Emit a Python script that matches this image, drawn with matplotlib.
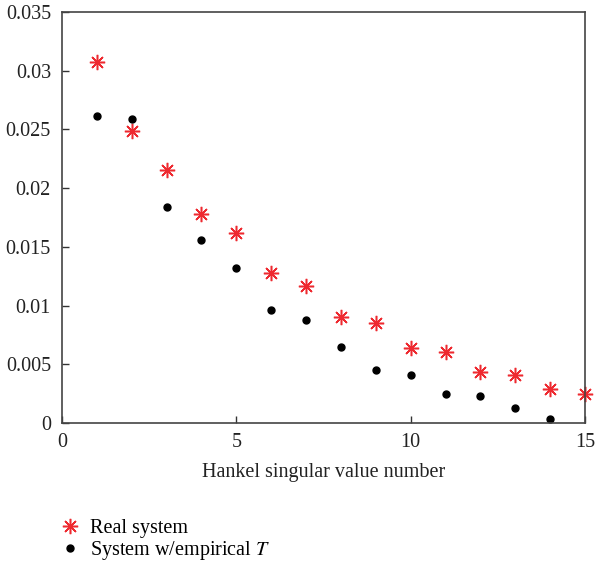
import matplotlib
matplotlib.use('Agg')
import matplotlib.pyplot as plt
import numpy as np

plt.rcParams['font.family'] = ['Liberation Serif', 'DejaVu Serif']
plt.rcParams['mathtext.fontset'] = 'stix'

# データ
n_real = np.arange(1, 16)
real_system = [0.0307, 0.0249, 0.0215, 0.0178, 0.0162, 0.0128, 0.0117, 0.0090,
               0.0085, 0.0064, 0.0060, 0.0043, 0.0041, 0.0029, 0.0025]
n_emp = np.arange(1, 15)
empirical_T = [0.0261, 0.0259, 0.0184, 0.0156, 0.0132, 0.0096, 0.0088, 0.0065,
               0.0045, 0.0041, 0.0025, 0.0023, 0.0013, 0.0003]

fig = plt.figure(figsize=(5.95, 5.70), dpi=100)
ax = fig.add_axes([0.1042, 0.258, 0.879, 0.721])

ax.plot(n_real, real_system, linestyle='none', marker=(8, 2, 0), markersize=11,
        markeredgewidth=1.1, color='#ee2a30', label='Real system', clip_on=False)
ax.plot(n_emp, empirical_T, linestyle='none', marker='o', markersize=5,
        color='black', label='System w/empirical $T$', clip_on=False)

ax.set_xlim(0, 15)
ax.set_ylim(0, 0.035)
ax.set_xticks([0, 5, 10, 15])
ax.set_yticks(np.arange(0, 0.0351, 0.005))
ax.set_yticklabels(['0', '0.005', '0.01', '0.015', '0.02', '0.025', '0.03', '0.035'])
ax.tick_params(direction='in', labelsize=14.5, length=5, width=1, colors='#333333',
               labelcolor='#222222')
ax.tick_params(axis='y', pad=8)
ax.tick_params(axis='x', pad=7)
for s in ax.spines.values():
    s.set_linewidth(1.2)
    s.set_color('#444444')

ax.set_xlabel('Hankel singular value number', fontsize=14.5, color='#222222', labelpad=8)

fig.legend(loc='upper left', bbox_to_anchor=(0.1, 0.09), frameon=False,
           fontsize=14.5, handlelength=1.0, handletextpad=0.5, labelspacing=0.05,
           borderaxespad=0, borderpad=0)

fig.savefig('out.png', dpi=100)
